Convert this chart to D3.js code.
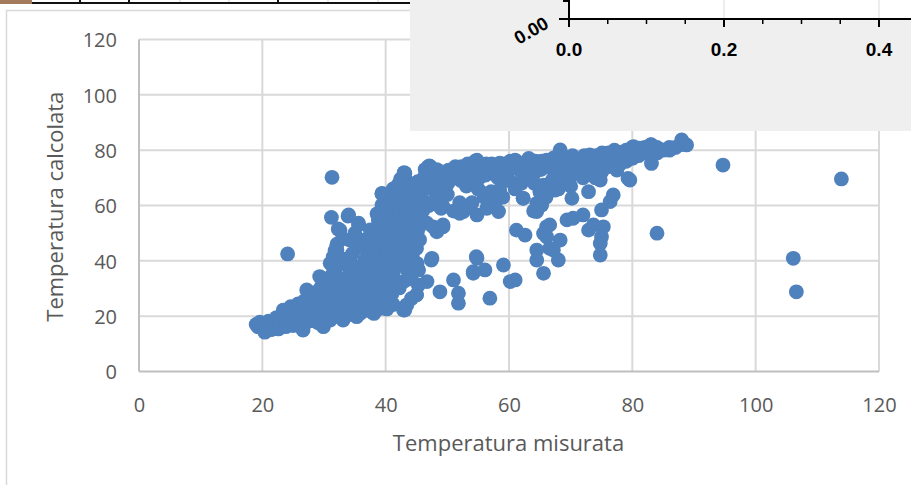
<!DOCTYPE html>
<html><head><meta charset="utf-8">
<script src="https://cdn.jsdelivr.net/npm/d3@7"></script>
<style>html,body{margin:0;padding:0;background:#fff;overflow:hidden}</style>
</head><body><svg id="c" width="911" height="485"></svg>
<script>
const xTicks=[0,20,40,60,80,100,120];
const yTicks=[0,20,40,60,80,100,120];
const xTitle="Temperatura misurata";
const yTitle="Temperatura calcolata";
const insetMajorTicks=[0.0,0.2,0.4];
const insetMinorTicks=[0.05,0.1,0.15,0.25,0.3,0.35,0.45];
const insetYLabel="0.00";

const pointsLowBand=[[19,17],[19.3,16.2],[19.6,17.8],[20.2,15.5],[20.4,14.2],[20.8,16.8],[21,18.2],[21.4,15.1],[21.8,16.5],[22,17.8],[22.3,19.5],[22.6,15.4],[23,16.8],[23.1,18.6],[23.4,20.8],[23.4,22.2],[23.8,16.2],[24.1,17.9],[24.3,19.8],[24.5,21.6],[24.6,23.4],[25,16.6],[25.2,18.5],[25.4,20.4],[25.6,22.3],[25.8,24.4],[26,17.2],[26.2,19.1],[26.4,21.2],[26.6,23.3],[26.6,15.0],[26.8,25.5],[27.2,17.8],[27.2,29.5],[27.4,19.8],[27.6,22],[27.8,24.2],[28,26.4],[28.2,18.4],[28.4,20.6],[28.6,28.6],[28.8,22.8],[29,25],[29,17.6],[29.3,27.2],[29.3,34.3],[29.5,30.5],[29.9,16.2],[29.8,19.2],[30,21.4],[30.2,23.6],[30.4,32.4],[30.5,25.8],[30.8,28],[31,18.6],[31,30.2],[31.2,34.5],[31.4,20.6],[31.5,41.5],[31.6,36.8],[31.8,22.8],[31.8,43.7],[32,25],[32.1,27.2],[32.2,29.4],[32.3,31.6],[32.4,33.8],[32.5,38.8],[32.6,19.6],[32.8,21.4],[33,23.6],[33.1,18.6],[33.2,40.6],[33.3,25.8],[33.5,28],[33.6,30.2],[33.8,32.4],[34,34.6],[34.2,31.3],[34.2,36.8],[34.2,40.3],[34.4,39],[34.5,20.6],[34.6,42.6],[34.7,35.5],[35,22.8],[35,25],[35.2,27.2],[35.3,19.8],[35.4,29.4],[35.6,44.8],[35.8,45.1],[35.9,31.6],[36,33.8],[36,21.2],[36.2,24.2],[36.4,37.5],[36.4,47.5],[36.6,40.2],[36.8,27],
[31.2,55.7],[32.3,51.5],[32.6,51.1],[33.9,56.2],[34,56.6],[35.6,53.6],[35.6,53.0],[32.1,43.9],[32.1,46],[33,48],[34.2,47.5],[35,50],[31,39.1]];

const pointsCore=[[37,22.4],[37.1,26],[37.2,30.3],[37.3,34.1],[37.1,38.2],[37.4,42.6],[37.2,47.3],[37.5,51.2],[37.7,21.6],[37.7,27.7],
[38.1,21],[38.2,25.3],[38,29],[38.3,33],[38.4,36.9],[38.2,41],[38.5,45.5],[38.5,49.9],[38.8,54.8],[38.6,57],
[39.2,22.8],[39.1,27.4],[39.4,31.3],[39,35.3],[39.3,39.4],[39.5,43.2],[39.1,45.1],[39.6,47.6],[39.2,51.4],[39.4,56],[39.4,60.2],[39.4,64.4],
[40.2,22.6],[40,26.2],[40.3,30.4],[40.1,34.6],[40.4,38.2],[40.2,43.9],[40.5,46.2],[40.3,50.3],[40.6,54.2],[40.7,56.6],[40.4,58.4],[40.7,63.2],[40.9,61.5],
[41.2,24.2],[41.2,34.3],[41,28],[41.3,36.4],[41.1,40.5],[41.5,44.3],[41.2,48.2],[41.6,52],[41.3,56.2],[41.5,59.8],[41.7,62.8],[41.2,66],
[42.3,39.1],[42.2,30.2],[42.1,42.4],[42.5,46.2],[42.2,50],[42.6,54.3],[42.3,58],[42.5,62.2],[42,67.4],[42.4,69.5],[42.9,22.2],
[43.1,22.2],[43.4,24],[43,32.6],[43.5,36.8],[43.2,41.1],[43.4,45.2],[43.1,49.2],[43.6,53],[43.3,57.4],[43.6,61],[43.2,65.3],[43.4,68.8],[43,71.9],[43.1,71.6],[43.9,51.1],
[44.2,26.4],[44.1,33.5],[44.3,41.7],[44.5,45.1],[44.2,48.6],[44.6,52.4],[44.3,56.2],[44.5,60],[44.8,62.6],[44.2,64.8],[44.6,67.5],
[45,27.7],[45.3,31.2],[45.3,36.7],[45.1,39],[45,44.5],[45.5,47.6],[45.2,51],[45.6,55.2],[45.3,58.7],[45.5,65.2],[45.2,68.6]];

const pointsUpperBand=[[46,58],[46,62],[46.2,70],[46.4,73],[47,60],[47.2,68],[47.1,72],[47.2,74],[48,62],[48.2,70],[48.3,73],[49,59],[49.2,71],
[50,64],[50.1,68],[50.2,72.8],[51,58],[51.2,70],[51.3,74],[52,61],[52.2,69],[52.3,73],[53,59],[53.1,67],[53.2,71],[53.3,75],
[54,61],[54.2,69],[54.3,73],[54.5,76],[55,66],[55.2,70],[55.3,74],[56,63],[56.2,71],[56.3,75],[57,61],[57.1,65],[57.3,73],[57.2,75],
[58,62],[58.2,70],[58.3,74],[59,63],[59.2,71],[59.3,75],[60,69],[60.1,73],[60.2,76],[61,66],[61.1,74],[61.2,76],[62,68],[62,72],[62.1,75],
[63,70],[63.1,74],[63.2,77],[64,58],[64.1,68],[64.2,72],[64.3,76],[65,65],[65.2,73],[65.3,76],[66,63],[66,67],[66.2,75],[67,69],[67.1,73],[67.2,77],
[68,66],[68,70],[68.2,79],[69,68],[69.1,72],[69.2,76],[70,67],[70.1,71],[70.3,78],[71,72],[71.1,76],[72,70],[72.2,78],[73,73],[73.1,77],
[74,70],[74.1,78],[75,72],[75,76],[75.1,79],[76,74],[76.1,79],[77,77],[77.1,80],[78,75],[78,79],[79,76],[79,80],[80,77],[80,81],[81,78],[81,80],[82,79],[82,81],[83,80],[83,82],[84,79],[84,81],[85,80],[86,80],[86,81],[87,81],[88,82],
[88,83.7],[88.8,81.9],[86.4,80.7],[84.5,80.1],[83.1,81.9],[83.1,75.2],[81.2,80.7],[80.2,81.3],[79.3,69.8],[78.5,79.4],[77.5,72.8],[76.6,78.3],[74.8,69.2],[73.1,78.3],[71.5,76.5],[69.9,75.3],[68.3,80.1],[67.2,77.1],[68.8,73.4],[74.2,74.6],[78,76.5],[79.6,69.2],[67.5,65.6],[65.6,67.4],[68.3,79.4],[66.1,76.4],[63.9,75.8],[61,76.4],[58.5,75.3],[56.9,74.6],[54.8,76.4],[52.3,74],[47.2,74],[47.1,74.3],[43.1,71.6],[47.2,68],[44.8,62.6],[48.8,65.6],[49.3,59.6],[55.8,64.4],[58.5,65.6],[60.7,68],[62.3,62.6],[64.5,60.8],[42,67],[39.4,64.2],[44.5,62],[47.2,66.2],[46.9,74]];

const pointsScatter=[[46.7,32.5],[48.8,28.8],[51,33.1],[51.8,28.3],[51.8,24.7],[47.5,40.9],[45.3,36.7],[47.7,52.3],[49.3,53],[49.3,52.3],[48.3,50.5],[46.7,53.6],[47.4,40.3],[54.8,40.9],[54.2,36.1],[56.1,36.7],[56.9,26.5],[59.1,38.5],[60.2,32.5],[61,33.1],[61.2,51.1],[62.6,49.3],[65.6,49.9],[68.3,47.5],[67.2,43.9],[64.5,43.9],[64.5,40.3],[68,40.3],[65.6,35.5],[69.4,54.8],[66.1,52.3],[66.6,53],[66.1,48.7],[66.6,44.5],[65.3,60.2],[64.5,57.8],[62.3,62.6],[70.4,55.4],[72,56.6],[73.7,53],[72.9,51.1],[75.3,52.3],[75,48.7],[74.8,46.3],[74.8,42.1],[75,58.4],[76.4,61.4],[76.9,63.8],[70.2,62.6],[72.9,65],[52.6,57.8],[54.8,56.6],[56.4,59],[58.3,57.8],[52,57.2],[48.8,59.6],[54.7,41.5],[54.2,35.5],[43.4,24],[45,27.7]];

const pointsOutliers=[[31.3,70.2],[24.1,42.5],[84,50],[94.7,74.6],[106.1,40.9],[106.6,28.8],[113.9,69.6]];

const svg=d3.select("#c");
const x=d3.scaleLinear().domain([0,120]).range([139,879]);
const y=d3.scaleLinear().domain([0,120]).range([371.5,39.5]);
const textCol="#595959", font="'Open Sans', sans-serif";

svg.append("rect").attr("x",6.5).attr("y",10.5).attr("width",1000).attr("height",1000)
  .attr("fill","#fff").attr("stroke","#d9d9d9").attr("stroke-width",1.5);

svg.append("g").selectAll("line").data(xTicks.slice(1)).join("line")
  .attr("x1",d=>x(d)).attr("x2",d=>x(d)).attr("y1",y(0)).attr("y2",y(120))
  .attr("stroke","#d9d9d9").attr("stroke-width",2);
svg.append("g").selectAll("line").data(yTicks.slice(1)).join("line")
  .attr("x1",x(0)).attr("x2",x(120)).attr("y1",d=>y(d)).attr("y2",d=>y(d))
  .attr("stroke","#d9d9d9").attr("stroke-width",2);
svg.append("line").attr("x1",x(0)).attr("x2",x(120)).attr("y1",y(0)).attr("y2",y(0)).attr("stroke","#bfbfbf").attr("stroke-width",2);
svg.append("line").attr("x1",x(0)).attr("x2",x(0)).attr("y1",y(0)).attr("y2",y(120)).attr("stroke","#bfbfbf").attr("stroke-width",2);

const gx=svg.append("g").attr("transform",`translate(0,${y(0)})`)
  .call(d3.axisBottom(x).tickValues(xTicks).tickSize(0).tickFormat(d3.format("d")));
gx.select(".domain").remove();
gx.selectAll("text").attr("y",40).attr("dy",null).attr("fill",textCol).style("font-family",font).style("font-size","20px");
const gy=svg.append("g").attr("transform",`translate(${x(0)},0)`)
  .call(d3.axisLeft(y).tickValues(yTicks).tickSize(0).tickFormat(d3.format("d")));
gy.select(".domain").remove();
gy.selectAll("text").attr("x",-22).attr("dy","0.36em").attr("fill",textCol).style("font-family",font).style("font-size","20px");

svg.append("text").attr("x",508.5).attr("y",451).attr("text-anchor","middle")
  .attr("fill",textCol).style("font-family",font).style("font-size","22px").text(xTitle);
svg.append("text").attr("transform","translate(62.5,206.7) rotate(-90)").attr("text-anchor","middle")
  .attr("fill",textCol).style("font-family",font).style("font-size","22px").text(yTitle);

const allPts=[].concat(pointsLowBand,pointsCore,pointsUpperBand,pointsScatter,pointsOutliers);
svg.append("g").selectAll("circle").data(allPts).join("circle")
  .attr("cx",d=>x(d[0])).attr("cy",d=>y(d[1])).attr("r",7.4).attr("fill","#4f81bd");

svg.append("rect").attr("x",0).attr("y",0).attr("width",32).attr("height",4).attr("fill","#a47a5c");
svg.append("line").attr("x1",32).attr("x2",410).attr("y1",3).attr("y2",3).attr("stroke","#111").attr("stroke-width",2);
svg.append("g").selectAll("line").data([180,229,328,378]).join("line")
  .attr("x1",d=>d).attr("x2",d=>d).attr("y1",0).attr("y2",2).attr("stroke","#c9d6e3").attr("stroke-width",1);
svg.append("g").selectAll("line").data([80,129,278]).join("line")
  .attr("x1",d=>d).attr("x2",d=>d).attr("y1",0).attr("y2",3).attr("stroke","#111").attr("stroke-width",2);

const ix=d3.scaleLinear().domain([0,0.4]).range([569,879]);
svg.append("rect").attr("x",410).attr("y",0).attr("width",501).attr("height",131).attr("fill","#efefef");
svg.append("rect").attr("x",ix(0)).attr("y",0).attr("width",911-ix(0)).attr("height",19).attr("fill","#fff");
svg.append("g").selectAll("line").data(insetMajorTicks.slice(1)).join("line")
  .attr("x1",d=>ix(d)).attr("x2",d=>ix(d)).attr("y1",0).attr("y2",19).attr("stroke","#dcdcdc").attr("stroke-width",1);
svg.append("line").attr("x1",559).attr("x2",911).attr("y1",19).attr("y2",19).attr("stroke","#000").attr("stroke-width",2);
svg.append("line").attr("x1",ix(0)).attr("x2",ix(0)).attr("y1",0).attr("y2",19).attr("stroke","#000").attr("stroke-width",2);
svg.append("line").attr("x1",563).attr("x2",ix(0)).attr("y1",1).attr("y2",1).attr("stroke","#000").attr("stroke-width",2);
svg.append("g").selectAll("line").data(insetMajorTicks).join("line")
  .attr("x1",d=>ix(d)).attr("x2",d=>ix(d)).attr("y1",19).attr("y2",27).attr("stroke","#000").attr("stroke-width",2);
svg.append("g").selectAll("line").data(insetMinorTicks).join("line")
  .attr("x1",d=>ix(d)).attr("x2",d=>ix(d)).attr("y1",19).attr("y2",24).attr("stroke","#000").attr("stroke-width",1.5);
svg.append("g").selectAll("text").data(insetMajorTicks).join("text")
  .attr("x",d=>ix(d)).attr("y",55.5).attr("text-anchor","middle")
  .style("font-family","'Liberation Sans', Arial, sans-serif").style("font-weight","bold").style("font-size","19px")
  .attr("fill","#000").text(d=>d3.format(".1f")(d));
svg.append("text").attr("transform","translate(550,27) rotate(-30)").attr("text-anchor","end")
  .style("font-family","'Liberation Sans', Arial, sans-serif").style("font-weight","bold").style("font-size","18.5px")
  .attr("fill","#000").text(insetYLabel);
</script></body></html>
